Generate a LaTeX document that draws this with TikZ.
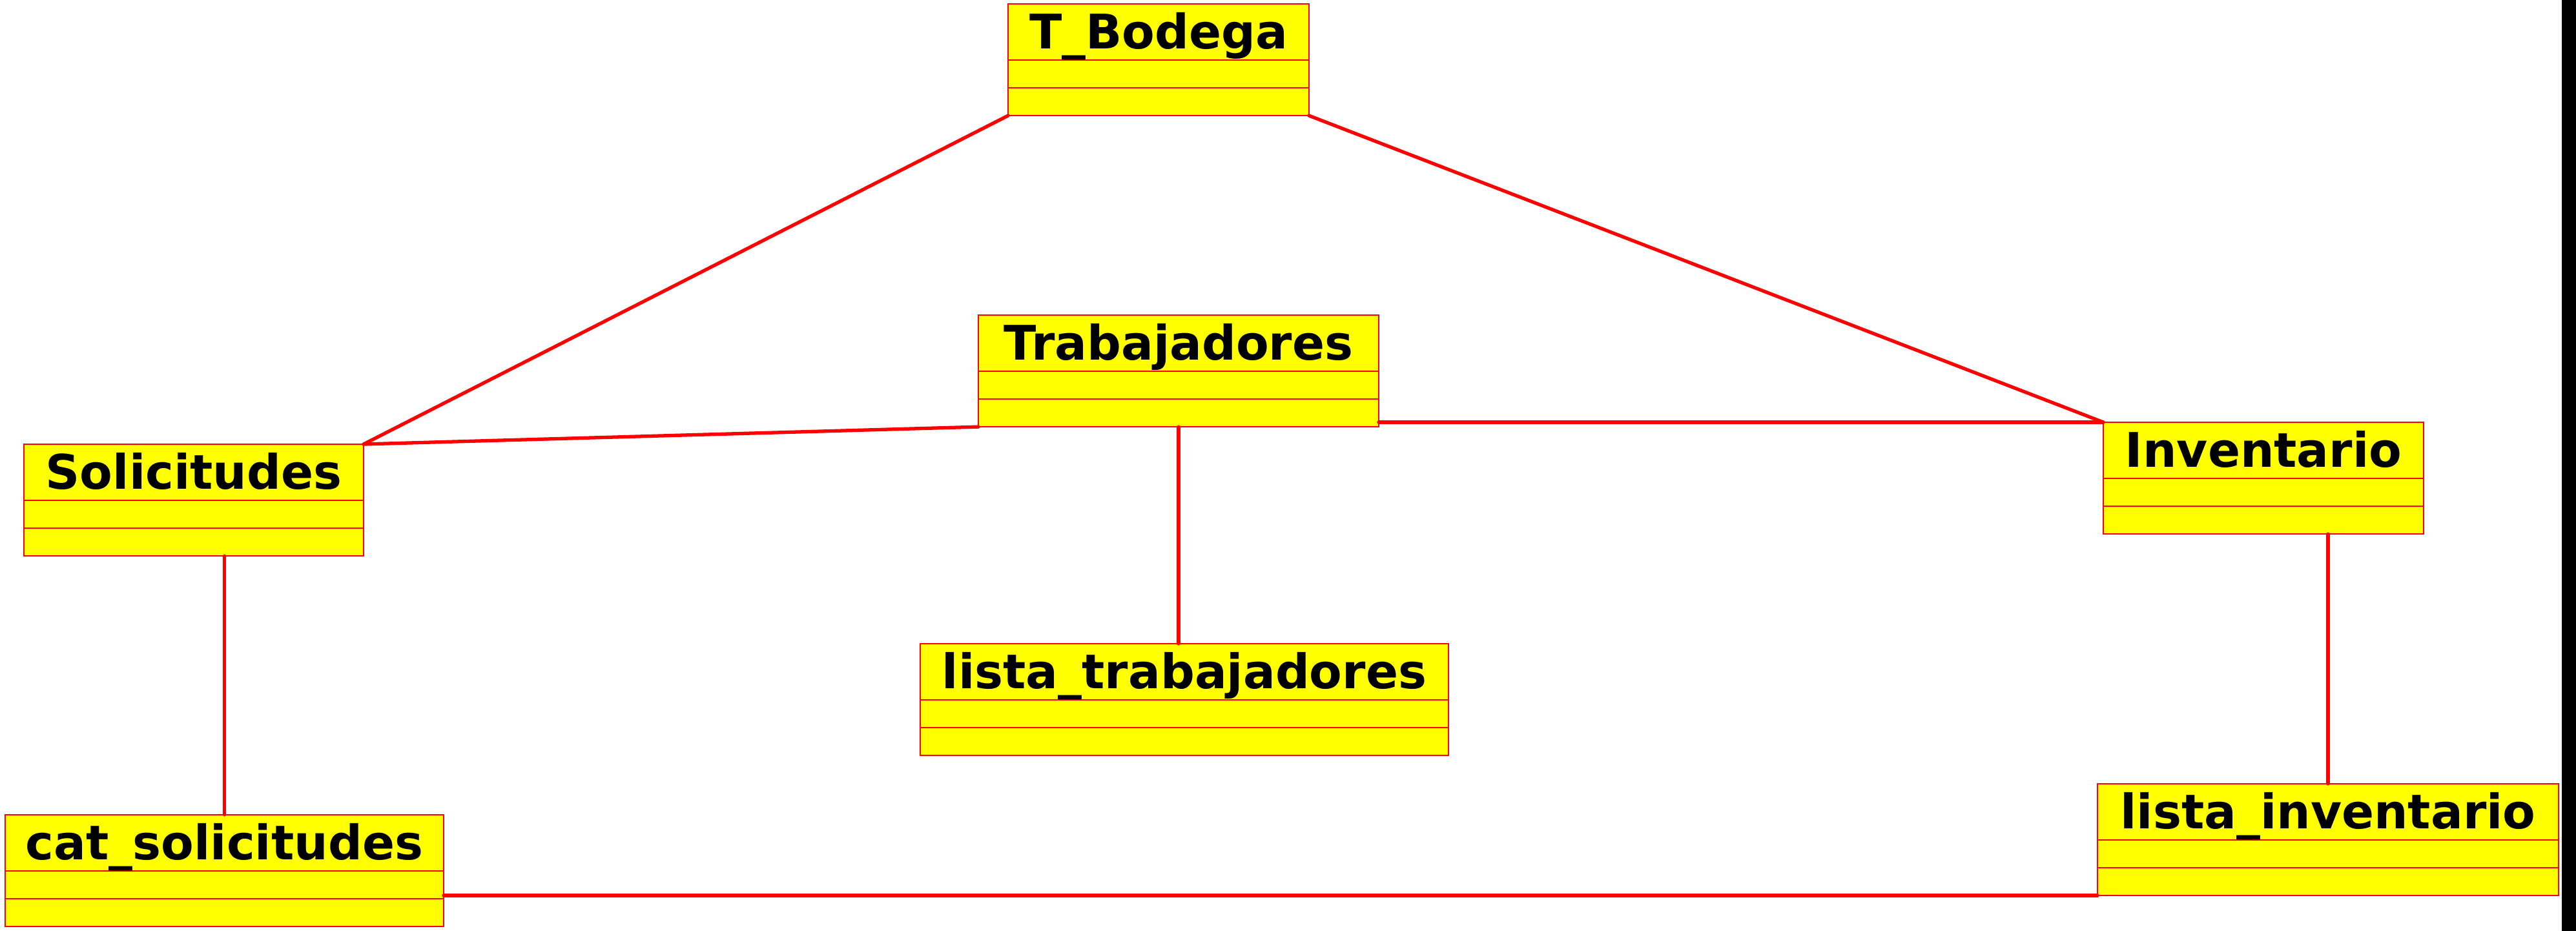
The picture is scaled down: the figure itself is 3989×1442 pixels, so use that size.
\documentclass[tikz,border=0pt]{standalone}
\usepackage{fontspec}
\setmainfont{DejaVu Sans}
\usetikzlibrary{calc}
\definecolor{umlyellow}{RGB}{255,255,0}
\definecolor{umlred}{RGB}{255,0,0}
\tikzset{
  umlbox/.style={draw=umlred, fill=umlyellow, line width=0.4pt, anchor=north west,
    minimum height=1.73cm, inner sep=0pt, outer sep=0pt},
  sepline/.style={draw=umlred, line width=0.4pt},
  umltitle/.style={anchor=base, inner sep=0pt, text=black,
    font=\bfseries\fontsize{21}{25}\selectfont},
  assoc/.style={draw=umlred, line width=1.5pt, line cap=round},
}
\newcommand\umlclass[5]{%
  \pgfmathsetmacro\boxwidth{(#4-#2)*0.01}%
  \node[umlbox, minimum width=\boxwidth cm] (#1) at (#2,#3) {};
  \draw[sepline] ($(#1.north west)+(0,87)$) -- ($(#1.north east)+(0,87)$);
  \draw[sepline] ($(#1.north west)+(0,130)$) -- ($(#1.north east)+(0,130)$);
  \node[umltitle] (#1-t) at ($(#1.north)+(0,69)$) {#5};
}
\begin{document}
\begin{tikzpicture}[x=0.01cm, y=-0.01cm]
\useasboundingbox (0,0) rectangle (3989,1442);
\fill[white] (0,0) rectangle (3989,1442);
\fill[black] (3967,0) rectangle (3989,1442);

\umlclass{tb}{1561}{6}{2027}{T\_Bodega}
\umlclass{trab}{1515}{488}{2135}{Trabajadores}
\umlclass{sol}{37}{688}{563}{Solicitudes}
\umlclass{inv}{3257}{654}{3753}{Inventario}
\umlclass{ltrab}{1425}{997}{2243}{lista\_trabajadores}
\umlclass{cat}{8}{1262}{687}{cat\_solicitudes}
\umlclass{linv}{3248}{1214}{3962}{lista\_inventario}

\draw[assoc] (tb.south west) -- (sol.north east);
\draw[assoc] (tb.south east) -- (inv.north west);
\draw[assoc] (trab.south west) -- (sol.north east);
\draw[assoc] (inv.north west -| trab.east) -- (inv.north west);
\draw[assoc] (trab.south) -- (trab.south |- ltrab.north);
\draw[assoc] (cat.north |- sol.south) -- (cat.north);
\draw[assoc] (linv.north |- inv.south) -- (linv.north);
\draw[assoc] (linv.south west -| cat.east) -- (linv.south west);
\end{tikzpicture}
\end{document}
